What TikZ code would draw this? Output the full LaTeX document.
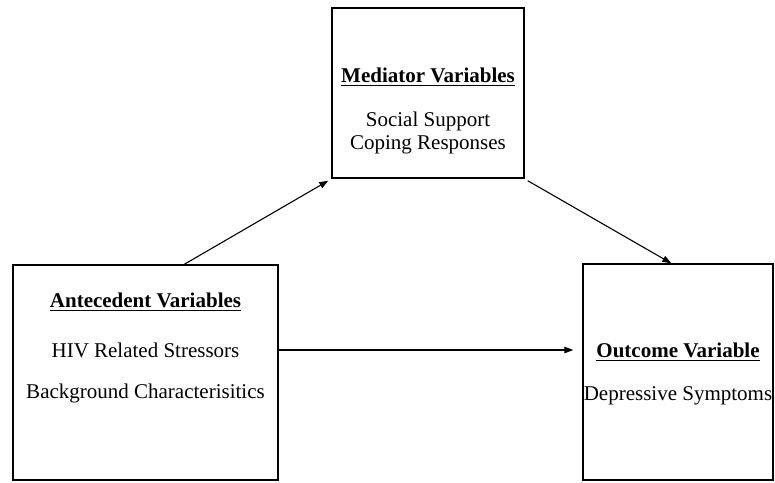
\documentclass[tikz,border=0pt]{standalone}
\usepackage{fontspec}
\setmainfont{Liberation Serif}
\usetikzlibrary{arrows.meta,calc}
\newcommand{\ttl}[1]{\textbf{#1}}
\begin{document}
\begin{tikzpicture}[x=1pt,y=-1pt,
  box/.style={draw=black,line width=1.4pt,rectangle,inner sep=0pt},
  txt/.style={inner sep=0pt,anchor=center,font=\fontsize{21}{24}\selectfont},
  ul/.style={line width=1.1pt},
  conn/.style={line width=1.1pt,-{Triangle[length=9pt,width=6.5pt]}}]
\useasboundingbox (0,0) rectangle (775,482);
% boxes
\node[box,minimum width=192pt,minimum height=170pt] (med) at (428,93) {};
\node[box,minimum width=265pt,minimum height=215pt] (ant) at (145.5,372.5) {};
\node[box,minimum width=190pt,minimum height=216pt] (out) at (678,372) {};
% mediator texts
\node[txt] (medt) at (428,75) {\ttl{Mediator Variables}};
\draw[ul] ($(medt.base west)+(0,3.5)$) -- ($(medt.base east)+(0,3.5)$);
\node[txt] (med1) at (428,121) {Social Support};
\node[txt] (med2) at (428,145) {Coping Responses};
% antecedent texts
\node[txt] (antt) at (145.5,300) {\ttl{Antecedent Variables}};
\draw[ul] ($(antt.base west)+(0,3.5)$) -- ($(antt.base east)+(0,3.5)$);
\node[txt] (ant1) at (145.5,350) {HIV Related Stressors};
\node[txt] (ant2) at (145.5,393) {Background Characterisitics};
% outcome texts
\node[txt] (outt) at (678,350) {\ttl{Outcome Variable}};
\draw[ul] ($(outt.base west)+(0,3.5)$) -- ($(outt.base east)+(0,3.5)$);
\node[txt] (out1) at (678,396) {Depressive Symptoms};
% connectors
\coordinate (a1s) at ($(ant.north west)+(172,0)$);
\coordinate (a1e) at ($(med.south west)+(-3,2)$);
\coordinate (a2s) at ($(med.south east)+(3,2)$);
\coordinate (a2e) at ($(out.north west)+(89,0)$);
\coordinate (a3s) at (ant.east |- 0,350);
\coordinate (a3e) at ($(out.west |- 0,350)+(-9,0)$);
\draw[conn] (a1s) -- (a1e);
\draw[conn] (a2s) -- (a2e);
\draw[conn] (a3s) -- (a3e);
\end{tikzpicture}
\end{document}
